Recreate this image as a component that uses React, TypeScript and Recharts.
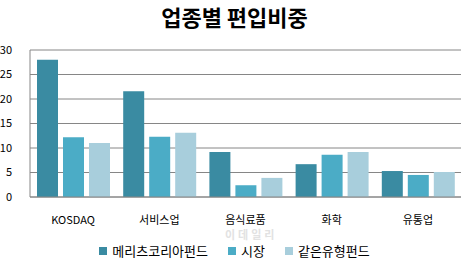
import { Bar, BarChart, CartesianGrid, XAxis, YAxis } from "recharts";

const categories = ["KOSDAQ", "서비스업", "음식료품", "화학", "유통업"];
const meritzKorea = [28.0, 21.6, 9.2, 6.7, 5.3];
const market = [12.2, 12.3, 2.4, 8.6, 4.5];
const sameTypeFunds = [11.0, 13.1, 3.9, 9.2, 5.1];
const yTicks = [0, 5, 10, 15, 20, 25, 30];

const series = [
  { key: "메리츠코리아펀드", color: "#3A8BA2", values: meritzKorea },
  { key: "시장", color: "#4BACC6", values: market },
  { key: "같은유형펀드", color: "#A8CEDC", values: sameTypeFunds },
];

const data = categories.map((c, i) => {
  const row: Record<string, string | number> = { name: c };
  series.forEach((s) => (row[s.key] = s.values[i]));
  return row;
});

const font = "'Noto Sans CJK KR', 'Noto Sans', sans-serif";

export default function App() {
  return (
    <div style={{ position: "absolute", left: 0, top: 0, width: 469, height: 268, background: "#fff", fontFamily: font }}>
      <div
        style={{
          position: "absolute",
          left: 0,
          top: 1,
          width: 469,
          textAlign: "center",
          fontSize: 22,
          fontWeight: 700,
          color: "#000",
          lineHeight: "30px",
        }}
      >
        업종별 편입비중
      </div>
      {/* faint watermark, squeezed between tick labels and legend */}
      <div
        style={{
          position: "absolute",
          left: 225,
          top: 229,
          fontSize: 11,
          lineHeight: "11px",
          fontWeight: 700,
          color: "#e2e2e2",
          letterSpacing: 3,
        }}
      >
        이데일리
      </div>
      <BarChart
        width={469}
        height={268}
        data={data}
        margin={{ top: 50, right: 8, left: 0, bottom: 0 }}
        barGap={5}
        barCategoryGap={7}
        style={{ position: "absolute", left: 0, top: 0 }}
      >
        <CartesianGrid vertical={false} stroke="#868686" />
        <XAxis
          dataKey="name"
          height={71}
          tickLine={false}
          axisLine={{ stroke: "#868686" }}
          tick={{ fontSize: 11, fill: "#000", fontFamily: font }}
          tickMargin={13}
          interval={0}
        />
        <YAxis
          width={30}
          domain={[0, 30]}
          ticks={yTicks}
          interval={0}
          tickLine={false}
          axisLine={{ stroke: "#868686" }}
          tick={{ fontSize: 11, fill: "#000", fontFamily: font }}
          tickMargin={12}
        />
        {series.map((s) => (
          <Bar key={s.key} dataKey={s.key} fill={s.color} isAnimationActive={false} />
        ))}
      </BarChart>
      <div
        style={{
          position: "absolute",
          left: 0,
          top: 243,
          width: 469,
          display: "flex",
          justifyContent: "center",
          gap: 20,
          fontSize: 13,
          color: "#000",
          lineHeight: "16px",
        }}
      >
        {series.map((s) => (
          <span key={s.key} style={{ display: "flex", alignItems: "center", gap: 5 }}>
            <span style={{ width: 8, height: 8, background: s.color, display: "inline-block" }} />
            {s.key}
          </span>
        ))}
      </div>
    </div>
  );
}
